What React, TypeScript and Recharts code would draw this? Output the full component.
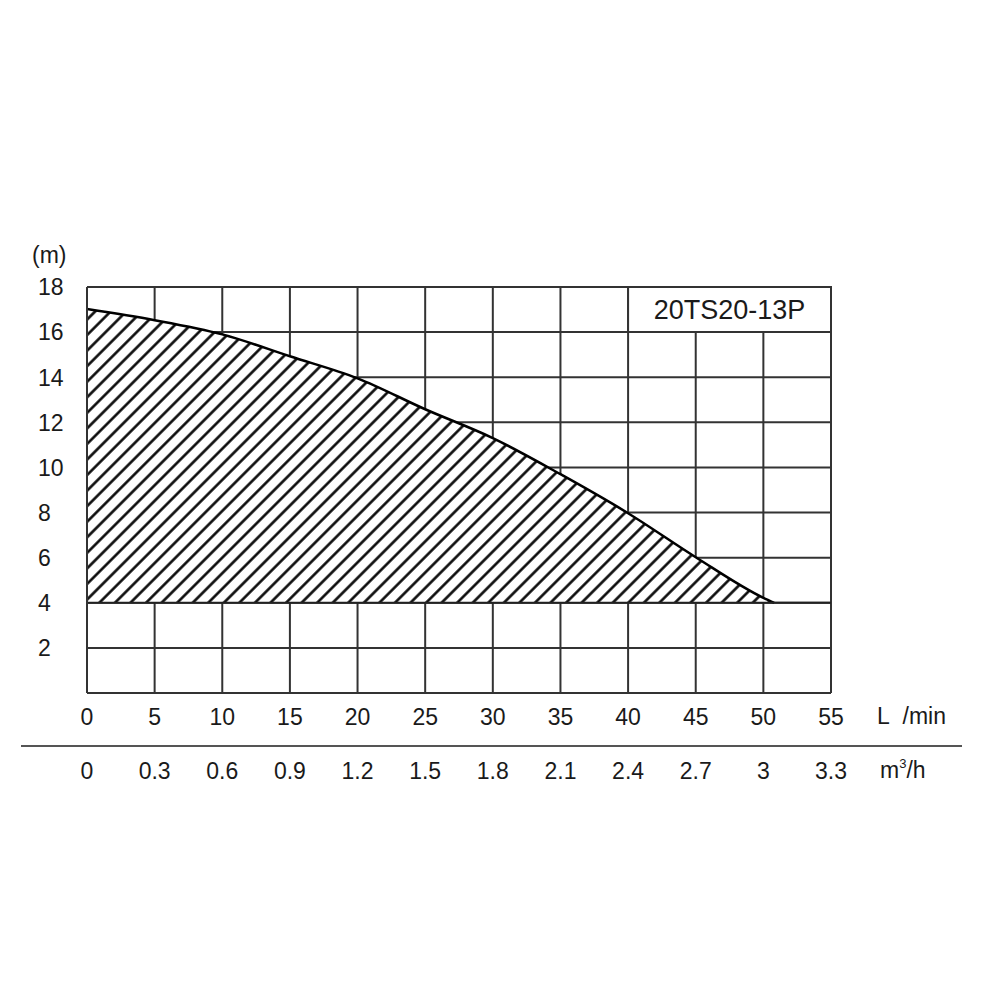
// Pump performance curve 20TS20-13P — head (m) vs flow (L/min, m³/h)

import React from "react";
import {
  ComposedChart,
  Area,
  CartesianGrid,
  XAxis,
  YAxis,
  ReferenceArea,
  ReferenceLine,
} from "recharts";

const flowLmin = [0, 5, 10, 15, 20, 25, 30, 35, 40, 45, 50, 50.8];
const headM = [17.02, 16.53, 15.9, 14.93, 13.95, 12.58, 11.3, 9.7, 7.97, 6.02, 4.22, 4.0];

const xTicks = [0, 5, 10, 15, 20, 25, 30, 35, 40, 45, 50, 55];
const m3hLabels = ["0", "0.3", "0.6", "0.9", "1.2", "1.5", "1.8", "2.1", "2.4", "2.7", "3", "3.3"];
const yTicks = [2, 4, 6, 8, 10, 12, 14, 16, 18];

const modelName = "20TS20-13P";

const FONT = "'Liberation Sans', Arial, sans-serif";
const TEXT = "#1a1a1a";
const GRID = "#333";
const HATCH = 11; // spacing between hatch lines

const data = flowLmin.map((q, i) => ({ q, h: headM[i] }));

function YTick(props: any) {
  const { y, payload } = props;
  return (
    <text x={38} y={y} dy="0.36em" textAnchor="start" fontSize={23} fontFamily={FONT} fill={TEXT}>
      {payload.value}
    </text>
  );
}

function LminTick(props: any) {
  const { x, y, payload } = props;
  return (
    <text x={x} y={y} dy="0.36em" textAnchor="middle" fontSize={23} fontFamily={FONT} fill={TEXT}>
      {payload.value}
    </text>
  );
}

function M3hTick(props: any) {
  const { x, y, payload } = props;
  const i = xTicks.indexOf(payload.value);
  return (
    <text x={x} y={y} dy="0.36em" textAnchor="middle" fontSize={23} fontFamily={FONT} fill={TEXT}>
      {m3hLabels[i]}
    </text>
  );
}

const unitStyle: React.CSSProperties = {
  position: "absolute",
  fontFamily: FONT,
  fontSize: 23,
  color: TEXT,
  lineHeight: 1,
  whiteSpace: "nowrap",
};

export default function App() {
  return (
    <div style={{ position: "absolute", left: 0, top: 0, width: 1000, height: 1000, background: "#fff" }}>
      <ComposedChart
        width={1000}
        height={1000}
        data={data}
        margin={{ top: 287, right: 169, bottom: 206, left: 0 }}
      >
        <defs>
          <pattern
            id="hatch"
            patternUnits="userSpaceOnUse"
            width={HATCH}
            height={HATCH}
            patternTransform="rotate(45)"
          >
            <rect x={0} y={0} width={HATCH} height={HATCH} fill="#fff" />
            <line x1={1.5} y1={0} x2={1.5} y2={HATCH} stroke="#000" strokeWidth={2.5} />
          </pattern>
        </defs>

        <CartesianGrid stroke={GRID} strokeWidth={2} />

        <XAxis
          xAxisId="lmin"
          dataKey="q"
          type="number"
          domain={[0, 55]}
          ticks={xTicks}
          height={53}
          tickSize={0}
          tickMargin={24}
          tick={<LminTick />}
          axisLine={{ stroke: GRID, strokeWidth: 2 }}
          tickLine={false}
        />
        <XAxis
          xAxisId="m3h"
          dataKey="q"
          type="number"
          domain={[0, 55]}
          ticks={xTicks}
          height={48}
          tickSize={0}
          tickMargin={25}
          tick={<M3hTick />}
          axisLine={false}
          tickLine={false}
        />
        <YAxis
          type="number"
          domain={[0, 18]}
          ticks={yTicks}
          width={87}
          tickSize={0}
          tick={<YTick />}
          axisLine={{ stroke: GRID, strokeWidth: 2 }}
          tickLine={false}
        />

        <Area
          xAxisId="lmin"
          type="monotone"
          dataKey="h"
          baseValue={4}
          stroke="#000"
          strokeWidth={2.5}
          fill="url(#hatch)"
          fillOpacity={1}
          dot={false}
          activeDot={false}
          isAnimationActive={false}
        />

        <ReferenceLine xAxisId="lmin" y={4} stroke="#222" strokeWidth={2} />

        <ReferenceArea
          xAxisId="lmin"
          x1={40}
          x2={55}
          y1={16}
          y2={18}
          fill="#fff"
          fillOpacity={1}
          stroke={GRID}
          strokeWidth={2}
          label={{
            value: modelName,
            position: "center",
            fontSize: 27,
            fontFamily: FONT,
            fill: TEXT,
          }}
        />
      </ComposedChart>

      <div style={{ ...unitStyle, left: 32, top: 244 }}>(m)</div>
      <div style={{ ...unitStyle, left: 877, top: 705 }}>L&nbsp;&nbsp;/min</div>
      <div style={{ ...unitStyle, left: 880, top: 759 }}>
        m<sup style={{ fontSize: 13, verticalAlign: "top", position: "relative", top: -2 }}>3</sup>/h
      </div>
      <div
        style={{
          position: "absolute",
          left: 21,
          top: 745,
          width: 941,
          height: 2,
          background: "#555",
        }}
      />
    </div>
  );
}
